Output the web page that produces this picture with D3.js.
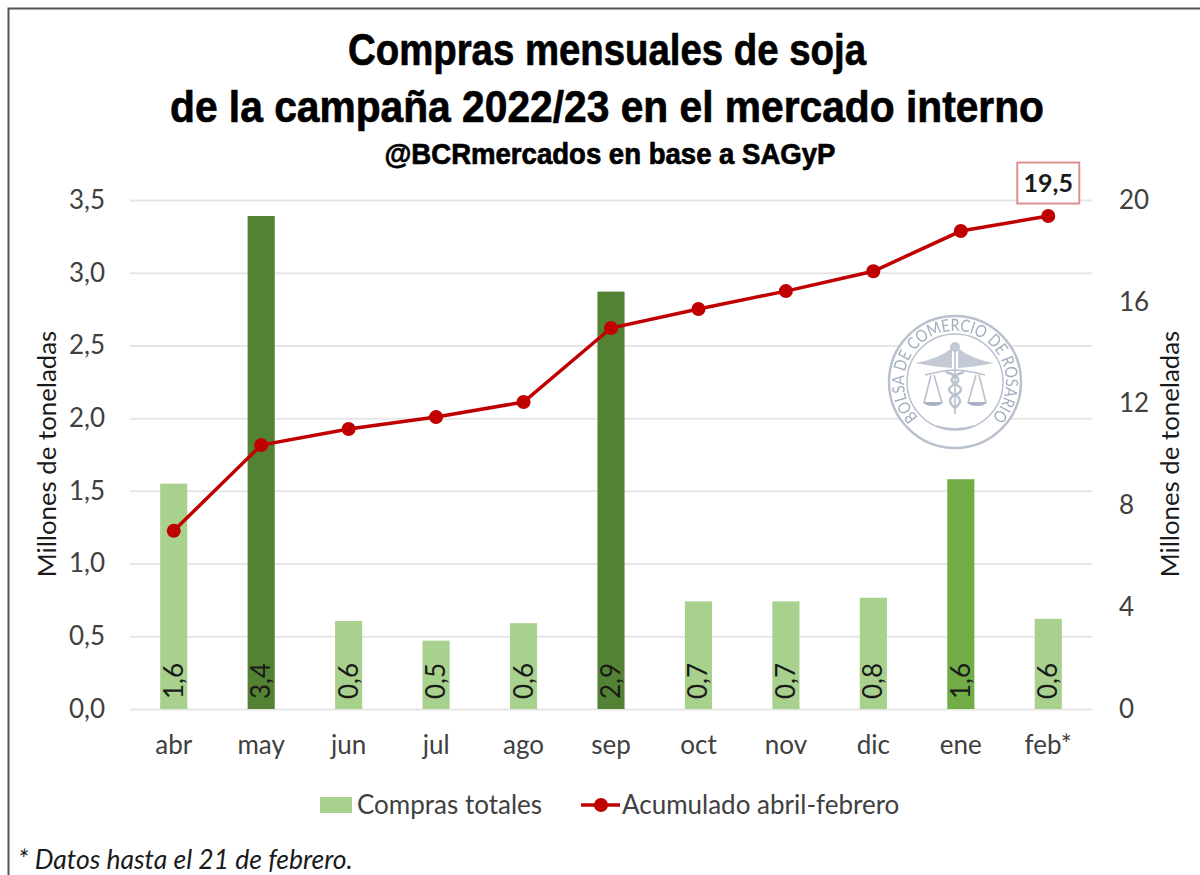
<!DOCTYPE html>
<html>
<head>
<meta charset="utf-8">
<script src="https://cdn.jsdelivr.net/npm/d3@7"></script>
<style>
  html, body { margin: 0; background: #fff; }
  text { font-family: Lato, "Open Sans", sans-serif; }
  .titulo { font-family: "Liberation Sans", sans-serif; font-weight: 700; fill: #000; stroke: #000; stroke-width: 0.7px; text-anchor: middle; }
  .axis text { font-size: 26px; fill: #404040; }
  .axis path { display: none; }
  .axis line { stroke: #e6e6e6; stroke-width: 2px; }
</style>
</head>
<body>
<div id="chart"></div>
<script>
const WIDTH = 1200;
const HEIGHT = 875;
const MARGIN = { TOP: 200, BOTTOM: 166, LEFT: 130, RIGHT: 108 };

const meses = ['abr', 'may', 'jun', 'jul', 'ago', 'sep', 'oct', 'nov', 'dic', 'ene', 'feb*'];
const compras = [1.55, 3.39, 0.605, 0.47, 0.59, 2.87, 0.74, 0.74, 0.765, 1.58, 0.62];
const etiquetas = ['1,6', '3,4', '0,6', '0,5', '0,6', '2,9', '0,7', '0,7', '0,8', '1,6', '0,6'];
const acumulado = [7.0, 10.37, 11.0, 11.47, 12.06, 14.97, 15.72, 16.42, 17.2, 18.78, 19.37];
const ticksIzq = [0, 0.5, 1, 1.5, 2, 2.5, 3, 3.5];
const ticksDer = [0, 4, 8, 12, 16, 20];

// meses con otro tono de verde
const colorMes = { may: '#548235', sep: '#548235', ene: '#70ad47' };
const COLOR_BARRA = '#a9d18e';
const ROJO = '#c00000';

const width = WIDTH - MARGIN.LEFT - MARGIN.RIGHT;
const height = HEIGHT - MARGIN.TOP - MARGIN.BOTTOM;
const coma = d3.format('.1f');

const svg = d3.select('#chart').append('svg')
  .attr('width', WIDTH)
  .attr('height', HEIGHT)
  .style('display', 'block');

svg.append('filter').attr('id', 'borroso')
  .append('feGaussianBlur').attr('stdDeviation', 0.6);

// marco de la imagen, solo arriba y a la izquierda
svg.append('path')
  .attr('d', `M8.5 ${HEIGHT} V8.5 H${WIDTH}`)
  .attr('fill', 'none')
  .attr('stroke', '#555')
  .attr('stroke-width', 2);

const titulos = [
  { t: 'Compras mensuales de soja', x: 607, y: 65, size: 45, len: 518 },
  { t: 'de la campaña 2022/23 en el mercado interno', x: 607, y: 122, size: 45, len: 874 },
  { t: '@BCRmercados en base a SAGyP', x: 610, y: 164, size: 29, len: 451 }
];
svg.selectAll('.titulo').data(titulos).enter().append('text')
  .attr('class', 'titulo')
  .attr('x', d => d.x)
  .attr('y', d => d.y)
  .attr('font-size', d => d.size)
  .attr('textLength', d => d.len)
  .attr('lengthAdjust', 'spacingAndGlyphs')
  .text(d => d.t);

const g = svg.append('g').attr('transform', `translate(${MARGIN.LEFT}, ${MARGIN.TOP})`);

const xscale = d3.scaleBand().domain(meses).range([0, width]).paddingInner(0.69).paddingOuter(0.345);
const yscale = d3.scaleLinear().domain([0, 3.5]).range([height, 0]);
const y2scale = d3.scaleLinear().domain([0, 20]).range([height, 0]);
const cx = m => xscale(m) + xscale.bandwidth() / 2;

// eje izquierdo con la grilla
const axisIzq = g.append('g').attr('class', 'axis')
  .call(d3.axisLeft(yscale).tickValues(ticksIzq).tickSize(-width).tickPadding(25)
    .tickFormat(d => coma(d).replace('.', ',')));

const axisDer = g.append('g').attr('class', 'axis')
  .attr('transform', `translate(${width}, 0)`)
  .call(d3.axisRight(y2scale).tickValues(ticksDer).tickSize(0).tickPadding(27));

const axisX = g.append('g').attr('class', 'axis')
  .attr('transform', `translate(0, ${height})`)
  .call(d3.axisBottom(xscale).tickSize(0).tickPadding(27));

// sello de la bolsa
const sello = svg.append('g').attr('transform', 'translate(955, 382)')
  .attr('fill', 'none')
  .attr('stroke', '#b9c0ce')
  .attr('filter', 'url(#borroso)');
sello.append('circle').attr('r', 66).attr('fill', '#fff').attr('stroke-width', 2.5);
sello.append('circle').attr('r', 48).attr('stroke-width', 1.5);
sello.append('path').attr('id', 'arcoSello').attr('stroke', 'none')
  .attr('d', 'M-36 36 A51 51 0 1 1 36 36');
sello.append('text').attr('fill', '#a3adc0').attr('stroke', 'none')
  .attr('font-size', 17)
  .append('textPath')
    .attr('href', '#arcoSello')
    .attr('startOffset', '50%')
    .attr('text-anchor', 'middle')
    .attr('textLength', 238)
    .attr('lengthAdjust', 'spacingAndGlyphs')
    .text('BOLSA DE COMERCIO DE ROSARIO');
// alas, baston, balanzas
sello.append('path').attr('fill', '#c3cad6').attr('stroke', 'none')
  .attr('d', 'M-40 -19 Q-16 -23 -3 -34 L-3 -14 Q-20 -15 -40 -19 Z M39 -19 Q16 -23 3 -34 L3 -14 Q20 -15 39 -19 Z');
sello.append('circle').attr('cy', -35).attr('r', 5).attr('fill', '#c3cad6').attr('stroke', 'none');
sello.append('path').attr('stroke-width', 1.6)
  .attr('d', 'M0 -32 V32 M-30 -7 Q-10 -12 0 -12 Q10 -12 30 -7 M-24 -7 L-31 21 M-21 -7 L-13 21 M24 -7 L31 21 M21 -7 L13 21');
sello.append('path').attr('stroke-width', 2.4)
  .attr('d', 'M-9 -10 Q10 -4 0 2 Q-12 8 0 13 Q10 18 0 26 M9 -10 Q-10 -4 0 2 Q12 8 0 13 Q-10 18 0 26');
sello.append('path').attr('fill', '#a8b1c3').attr('stroke', 'none')
  .attr('d', 'M-32 20 H-12 Q-14 24 -22 24 Q-30 24 -32 20 Z M12 20 H32 Q30 24 22 24 Q14 24 12 20 Z');
sello.append('path').attr('stroke-width', 1.5).attr('d', 'M-19 44 Q0 50 19 44');

const datosBarras = meses.map((m, i) => ({ mes: m, valor: compras[i], etiqueta: etiquetas[i] }));

g.selectAll('.barra').data(datosBarras).enter().append('rect')
  .attr('class', 'barra')
  .attr('x', d => xscale(d.mes))
  .attr('y', d => yscale(d.valor))
  .attr('width', xscale.bandwidth())
  .attr('height', d => height - yscale(d.valor))
  .attr('fill', d => colorMes[d.mes] || COLOR_BARRA);

g.selectAll('.etiqueta').data(datosBarras).enter().append('text')
  .attr('class', 'etiqueta')
  .attr('transform', d => `translate(${cx(d.mes) + 9}, ${height - 10}) rotate(-90)`)
  .attr('font-size', 26)
  .attr('fill', '#1a1a1a')
  .text(d => d.etiqueta);

const linea = d3.line().x(d => cx(d.mes)).y(d => y2scale(d.valor));
const datosLinea = meses.map((m, i) => ({ mes: m, valor: acumulado[i] }));

g.append('path').datum(datosLinea)
  .attr('d', linea)
  .attr('fill', 'none')
  .attr('stroke', ROJO)
  .attr('stroke-width', 3.5);

g.selectAll('.punto').data(datosLinea).enter().append('circle')
  .attr('class', 'punto')
  .attr('cx', d => cx(d.mes))
  .attr('cy', d => y2scale(d.valor))
  .attr('r', 7)
  .attr('fill', ROJO);

// recuadro del ultimo acumulado
const ultimo = datosLinea[datosLinea.length - 1];
const rotulo = g.append('g')
  .attr('transform', `translate(${cx(ultimo.mes)}, ${y2scale(ultimo.valor) - 33})`);
rotulo.append('rect')
  .attr('x', -31).attr('y', -20.5)
  .attr('width', 62).attr('height', 41)
  .attr('fill', '#fff')
  .attr('stroke', '#e08f8f')
  .attr('stroke-width', 2);
rotulo.append('text')
  .attr('text-anchor', 'middle')
  .attr('y', 9)
  .attr('font-size', 25)
  .attr('font-weight', 700)
  .attr('fill', '#1a1a1a')
  .text('19,5');

const tituloEje = (x) => svg.append('text')
  .attr('transform', `translate(${x}, 454) rotate(-90)`)
  .attr('text-anchor', 'middle')
  .attr('font-size', 25.8)
  .attr('fill', '#1a1a1a')
  .text('Millones de toneladas');
tituloEje(56);
tituloEje(1179);

// leyenda
const legend = svg.append('g').attr('transform', 'translate(0, 805)');
legend.append('rect')
  .attr('x', 320).attr('y', -8)
  .attr('width', 32).attr('height', 16)
  .attr('fill', COLOR_BARRA);
legend.append('text')
  .attr('x', 357).attr('y', 9)
  .attr('font-size', 26)
  .attr('fill', '#404040')
  .text('Compras totales');
legend.append('line')
  .attr('x1', 581).attr('x2', 620)
  .attr('stroke', ROJO).attr('stroke-width', 3.5);
legend.append('circle')
  .attr('cx', 601).attr('r', 7)
  .attr('fill', ROJO);
legend.append('text')
  .attr('x', 622).attr('y', 9)
  .attr('font-size', 26)
  .attr('fill', '#404040')
  .text('Acumulado abril-febrero');

svg.append('text')
  .attr('x', 18).attr('y', 869)
  .attr('font-size', 26.5)
  .attr('font-style', 'italic')
  .attr('fill', '#1a1a1a')
  .text('* Datos hasta el 21 de febrero.');
</script>
</body>
</html>
